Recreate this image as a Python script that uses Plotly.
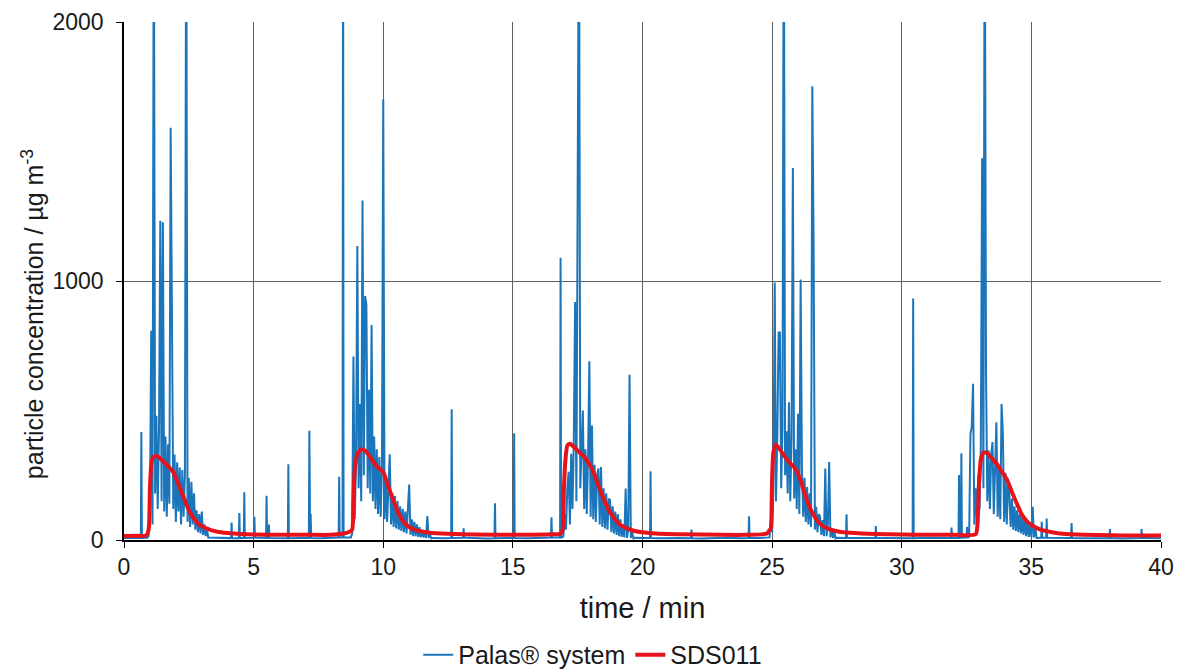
import numpy as np
import plotly.graph_objects as go

# Palas(R) system: quiet baseline between the exposure events (min, ug/m3)
palas_base_t = [0.0, 0.4, 0.9, 3.3, 3.8, 4.3, 5.2, 6.0, 6.8, 7.6, 8.1, 8.75,
                11.9, 12.4, 13.2, 14.0, 14.8, 15.6, 16.2, 16.9,
                19.7, 20.6, 21.4, 22.3, 23.2, 23.8, 24.5, 24.9,
                27.5, 28.3, 29.5, 30.2, 31.0, 31.6, 32.1, 32.58,
                35.25, 35.8, 36.9, 37.6, 38.5, 39.4, 40.0]
palas_base_v = [8, 6, 9, 10, 8, 7, 9, 6, 8, 7, 9, 10,
                8, 7, 9, 6, 8, 7, 9, 10,
                9, 7, 8, 6, 9, 7, 8, 10,
                9, 7, 8, 6, 9, 7, 8, 10,
                9, 8, 7, 9, 6, 8, 7]

# Palas(R) system: isolated short spikes outside the events
spike_t = [0.67, 4.15, 4.45, 4.64, 5.03, 5.50, 5.59, 6.34, 7.15, 7.20, 8.30, 8.45,
           12.64, 13.10, 14.31, 15.05, 16.49, 16.84, 20.31, 21.89, 24.11,
           27.87, 29.00, 30.44, 31.92, 32.21, 32.30, 32.52,
           35.40, 35.59, 36.55, 38.03, 39.25]
spike_v = [417, 67, 104, 184, 90, 171, 60, 292, 422, 100, 244, 2600,
           505, 45, 142, 412, 88, 1090, 265, 40, 92,
           99, 54, 932, 48, 251, 335, 51,
           70, 83, 66, 42, 42]

# Palas(R) system: dense samples during the five events, 0.05 min apart
event_start = [0.95, 8.80, 16.95, 24.95, 32.60]
event_1 = [15, 120, 808, 60, 2600, 180, 480, 120, 420, 1233, 150, 1227, 110, 400,
           90, 370, 140, 1592, 997, 120, 330, 70, 300, 110, 280, 60, 270, 90, 250,
           2600, 70, 240, 50, 225, 60, 180, 40, 115, 30, 100, 25, 110, 20, 60, 15,
           40, 10]
event_2 = [25, 708, 80, 300, 1135, 200, 525, 150, 1311, 250, 942, 910, 200, 580,
           180, 830, 150, 400, 120, 350, 100, 320, 90, 280, 1702, 80, 230, 70, 200,
           331, 60, 180, 50, 170, 45, 150, 40, 130, 35, 120, 30, 110, 25, 100, 214,
           20, 80, 15, 70, 15, 60, 12, 50, 10, 40, 10, 30, 8, 92, 8, 25, 6]
event_3 = [15, 100, 40, 200, 263, 60, 333, 120, 385, 919, 150, 1711, 2600, 200,
           372, 500, 120, 350, 100, 320, 690, 90, 442, 80, 290, 70, 250, 276, 60,
           282, 50, 200, 45, 180, 40, 160, 154, 30, 130, 25, 110, 20, 100, 15, 80,
           12, 60, 10, 199, 8, 40, 638, 8, 30, 6]
event_4 = [77, 30, 200, 994, 150, 397, 801, 801, 200, 436, 2600, 250, 420, 180,
           532, 150, 397, 1436, 160, 350, 120, 487, 100, 1006, 269, 90, 240, 70,
           205, 60, 180, 50, 1752, 1141, 40, 128, 30, 100, 90, 20, 77, 15, 276, 15,
           60, 301, 10, 40, 8, 30, 6]
event_5 = [20, 410, 436, 603, 60, 200, 80, 250, 120, 359, 1474, 200, 2600, 660,
           150, 346, 120, 330, 378, 100, 320, 455, 90, 290, 80, 525, 410, 70, 260,
           60, 220, 180, 50, 160, 40, 130, 35, 115, 30, 100, 25, 90, 20, 80, 15, 77,
           12, 60, 10, 128, 10, 50, 8]
palas_events = [event_1, event_2, event_3, event_4, event_5]

# SDS011 sensor
sds_t = [0.0, 0.5, 0.85, 0.95, 1.0, 1.05, 1.1, 1.2, 1.3, 1.5, 1.7, 1.9, 2.1, 2.3,
         2.5, 2.7, 2.9, 3.2, 3.6, 4.0, 4.5, 5.0, 6.0, 7.0, 8.0, 8.4, 8.7, 8.8,
         8.85, 8.9, 9.0, 9.15, 9.3, 9.5, 9.7, 9.85, 10.0, 10.2, 10.4, 10.6, 10.8,
         11.0, 11.3, 11.8, 12.5, 13.5, 15.0, 16.5, 16.85, 16.92, 16.97, 17.02,
         17.1, 17.2, 17.4, 17.6, 17.75, 17.9, 18.1, 18.3, 18.5, 18.7, 18.9, 19.1,
         19.4, 19.7, 20.0, 20.5, 21.5, 23.0, 24.0, 24.8, 24.9, 24.95, 24.99, 25.05,
         25.15, 25.3, 25.5, 25.7, 25.9, 26.1, 26.3, 26.5, 26.7, 26.9, 27.2, 27.6,
         28.0, 29.0, 30.0, 31.0, 32.0, 32.85, 32.92, 32.98, 33.05, 33.15, 33.3,
         33.5, 33.65, 33.85, 34.05, 34.25, 34.45, 34.65, 34.85, 35.05, 35.35,
         35.8, 36.2, 37.0, 38.1, 39.0, 40.0]
sds_v = [15, 16, 17, 40, 200, 290, 315, 325, 322, 305, 285, 262, 215, 165,
         115, 82, 60, 44, 32, 27, 23, 21, 20, 20, 20, 24, 32, 40,
         150, 270, 330, 350, 345, 320, 290, 275, 262, 205, 150, 100, 68,
         50, 37, 28, 24, 21, 20, 22, 25, 40, 200, 300,
         365, 372, 355, 335, 322, 300, 265, 210, 160, 115, 85, 62,
         45, 35, 30, 25, 22, 20, 20, 25, 38, 45, 200, 340,
         368, 350, 320, 295, 275, 230, 165, 115, 80, 58, 42, 32,
         28, 23, 21, 20, 20, 22, 60, 220, 310, 338, 335,
         312, 296, 265, 235, 185, 138, 95, 70, 55, 40,
         30, 24, 20, 18, 17, 17]

STEP = 0.05   # spacing of the event samples
FLANK = 0.02  # half width of an isolated spike

pts = list(zip(palas_base_t, palas_base_v))
for t, v in zip(spike_t, spike_v):
    b = float(np.interp(t, palas_base_t, palas_base_v))
    pts += [(t - FLANK, b), (t, v), (t + FLANK, b)]
for t0, vals in zip(event_start, palas_events):
    pts += [(round(t0 + i * STEP, 3), v) for i, v in enumerate(vals)]
pts.sort()
palas_t = [p[0] for p in pts]
palas_v = [p[1] for p in pts]

FONT = "Liberation Sans, Arial, sans-serif"
GRID = "#5f5f5f"
TXT = "#1a1a1a"

fig = go.Figure()
fig.add_trace(go.Scatter(
    x=palas_t, y=palas_v, mode="lines", name="Palas® system",
    line=dict(color="#1b75bb", width=2),
))
fig.add_trace(go.Scatter(
    x=sds_t, y=sds_v, mode="lines", name="SDS011",
    line=dict(color="#e8121b", width=4, shape="spline", smoothing=0.6),
))

fig.update_layout(
    width=1185, height=672,
    plot_bgcolor="white", paper_bgcolor="white",
    margin=dict(l=116, r=32, t=14, b=140, autoexpand=False),
    font=dict(family=FONT, size=23, color=TXT),
    showlegend=True,
    legend=dict(
        orientation="h", x=0.452, xanchor="center",
        y=-0.222, yanchor="middle",
        font=dict(size=25, color=TXT), itemwidth=30,
    ),
    annotations=[dict(
        text="particle concentration / µg m<sup>-3</sup>",
        xref="paper", yref="paper", x=0, y=0.436, xshift=-91,
        xanchor="center", yanchor="middle", textangle=-90, showarrow=False,
        font=dict(size=25, color=TXT),
    )],
)
fig.update_xaxes(
    range=[0, 40], tickvals=list(range(0, 41, 5)), automargin=False,
    showgrid=True, gridcolor=GRID, gridwidth=1,
    showline=True, linecolor="black", linewidth=1.5,
    ticks="outside", ticklen=6, tickcolor="black",
    tickfont=dict(size=23), zeroline=False,
    title=dict(text="time / min", font=dict(size=29), standoff=18),
)
fig.update_yaxes(
    range=[0, 2000], tickvals=[0, 1000, 2000], automargin=False,
    showgrid=True, gridcolor=GRID, gridwidth=1,
    showline=True, linecolor="black", linewidth=1.5,
    ticks="outside", ticklen=6, tickcolor="black",
    tickfont=dict(size=23), ticklabelstandoff=8, zeroline=False,
)

fig.write_html("out.html")
